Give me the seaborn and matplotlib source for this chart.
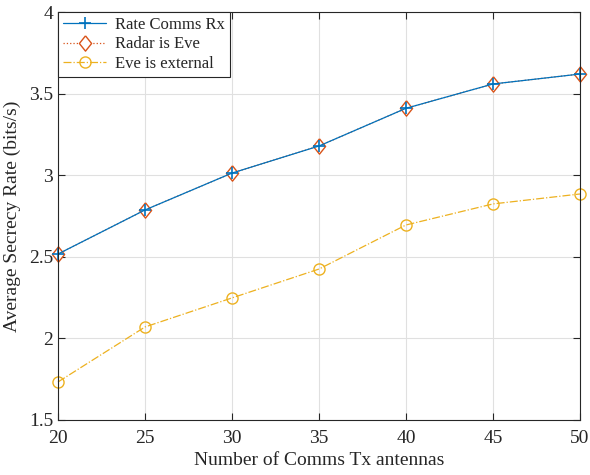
import numpy as np
import pandas as pd
import matplotlib
matplotlib.use("Agg")
import matplotlib.pyplot as plt
import seaborn as sns

# data
antennas = [20, 25, 30, 35, 40, 45, 50]
rate_comms_rx = [2.517, 2.787, 3.013, 3.179, 3.41, 3.559, 3.62]
radar_is_eve = [2.517, 2.787, 3.013, 3.179, 3.41, 3.559, 3.62]
eve_external = [1.733, 2.07, 2.248, 2.425, 2.695, 2.824, 2.885]

sns.set_style("ticks")
plt.rcParams['font.family'] = ['Liberation Serif', 'DejaVu Serif']
plt.rcParams['mathtext.fontset'] = 'stix'

fig = plt.figure(figsize=(5.9, 4.75), dpi=100)
ax = fig.add_axes([0.0983, 0.1158, 0.8847, 0.8589])

blue, orange, yellow = '#0072BD', '#D95319', '#EDB120'
# matlab style diamond, a bit taller than wide
diamond = [(0, 1), (0.8, 0), (0, -1), (-0.8, 0), (0, 1)]

sns.lineplot(x=antennas, y=radar_is_eve, ax=ax, color=orange, lw=0.9,
             linestyle=':', marker=diamond, markersize=11, markerfacecolor='white',
             markeredgecolor=orange, markeredgewidth=1.0, label='Radar is Eve')
sns.lineplot(x=antennas, y=rate_comms_rx, ax=ax, color=blue, lw=0.9,
             marker='+', markersize=9, markeredgecolor=blue, markeredgewidth=1.2,
             label='Rate Comms Rx')
sns.lineplot(x=antennas, y=eve_external, ax=ax, color=yellow, lw=0.9,
             linestyle='-.', marker='o', markersize=8, markerfacecolor='none',
             markeredgecolor=yellow, markeredgewidth=1.0, label='Eve is external')
for ln in ax.lines:
    ln.set_clip_on(False)

ax.set_xlim(20, 50)
ax.set_ylim(1.5, 4)
ax.set_xticks(range(20, 51, 5))
ax.set_yticks([1.5, 2, 2.5, 3, 3.5, 4])
ax.set_yticklabels(['1.5', '2', '2.5', '3', '3.5', '4'])
ax.grid(True, color='#e0e0e0', lw=0.8)
ax.set_axisbelow(True)
for s in ax.spines.values():
    s.set_visible(True)
    s.set_color('#262626')
    s.set_linewidth(0.8)
ax.tick_params(direction='in', length=5, width=0.8, labelsize=14, colors='#262626',
               top=True, right=True)
ax.tick_params(axis='x', pad=7)
ax.set_xlabel('Number of Comms Tx antennas', fontsize=14, labelpad=4)
ax.set_ylabel('Average Secrecy Rate (bits/s)', fontsize=14, labelpad=6)

handles, labels = ax.get_legend_handles_labels()
order = [1, 0, 2]
leg = ax.legend([handles[i] for i in order], [labels[i] for i in order],
                loc='upper left', fontsize=12, frameon=True, fancybox=False,
                borderaxespad=0, handlelength=2.6, borderpad=0.3, labelspacing=0.2,
                handletextpad=0.5)
leg.get_frame().set_edgecolor('#262626')
leg.get_frame().set_linewidth(0.8)
leg.get_frame().set_alpha(1)

fig.savefig('out.png', dpi=100)
